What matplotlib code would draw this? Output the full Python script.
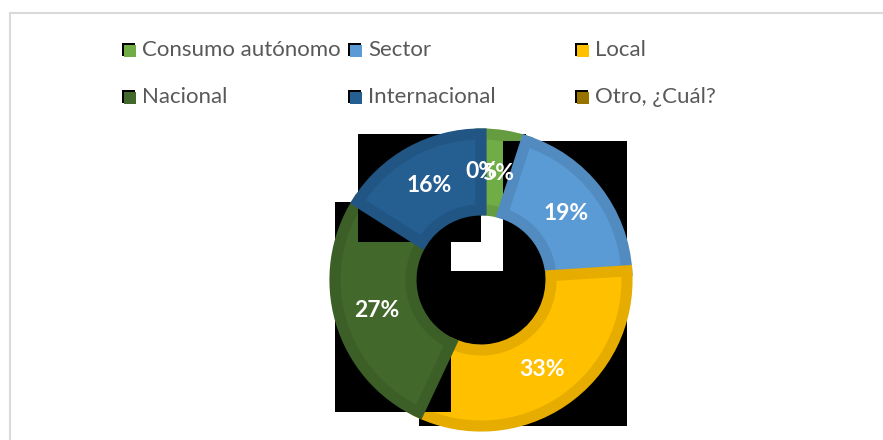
import matplotlib
matplotlib.use("Agg")
import matplotlib.pyplot as plt
from matplotlib.patches import Rectangle
from matplotlib.colors import to_rgb

categorias = ["Consumo autónomo", "Sector", "Local", "Nacional", "Internacional", "Otro, ¿Cuál?"]
porcentajes = [5, 19, 33, 27, 16, 0]
colores = ["#70AD47", "#5B9BD5", "#FFC000", "#43682B", "#255E91", "#997300"]

W, H = 883, 440
fig = plt.figure(figsize=(W / 100, H / 100), dpi=100)
ax = fig.add_axes([0, 0, 1, 1])
ax.set_xlim(0, W)
ax.set_ylim(0, H)

def oscuro(c, f=0.9):
    r, g, b = to_rgb(c)
    return (r * f, g * f, b * f)

radio = 146
ancho = 76
centro = (481, H - 280)
explode = [5 / radio] * len(porcentajes)

wedges, textos, autotextos = ax.pie(
    porcentajes, colors=colores, startangle=90, counterclock=False,
    radius=radio, center=centro, explode=explode, frame=True,
    autopct="%.0f%%", pctdistance=0.74,
    wedgeprops=dict(width=ancho, linewidth=0),
    textprops=dict(color="white", fontsize=16.5, fontweight="bold", family="Lato"))

# fondo negro de cada sector (caja envolvente) y borde interior más oscuro
for i, (w, v) in enumerate(zip(wedges, porcentajes)):
    w.set_zorder(11 + 2 * i)
    if v == 0:
        continue
    bb = w.get_path().get_extents()
    ax.add_patch(Rectangle((bb.x0, bb.y0), bb.width, bb.height,
                           facecolor="black", edgecolor="none", zorder=10 + 2 * i))
    w.set_edgecolor(oscuro(colores[i]))
    w.set_linewidth(8)
    w.set_clip_path(w)

for t in autotextos:
    t.set_zorder(40)

ax.set_xlim(0, W)
ax.set_ylim(0, H)
ax.set_aspect("auto")
ax.axis("off")

# marco del gráfico
ax.add_patch(Rectangle((9.5, -10), W, H - 12.5 + 10, fill=False,
                       edgecolor="#D9D9D9", linewidth=1.5, zorder=1))

# leyenda en dos filas
cols_x = [123, 349, 576]
filas_y = [50, 97]
for k, (nombre, col) in enumerate(zip(categorias, colores)):
    x = cols_x[k % 3]
    y = H - filas_y[k // 3]
    ax.add_patch(Rectangle((x - 1, y - 6), 13, 13, facecolor="black",
                           edgecolor="none", zorder=50))
    ax.add_patch(Rectangle((x + 1, y - 7), 12, 12, facecolor=col,
                           edgecolor="none", zorder=51))
    ax.text(x + 19, y, nombre, fontsize=16, color="#595959", family="Lato",
            va="center", ha="left", zorder=52)

fig.savefig("out.png", dpi=100)
